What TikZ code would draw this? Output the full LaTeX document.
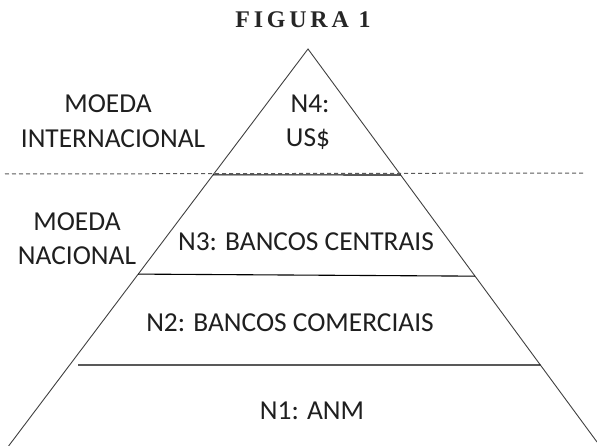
\documentclass[tikz,border=0pt]{standalone}
\usepackage{fontspec}
\setmainfont{Carlito}
\newfontfamily\titlefont[LetterSpace=16]{Liberation Serif}
\usetikzlibrary{calc}
\begin{document}
\begin{tikzpicture}[x=1bp,y=-1bp,
  side/.style={draw=black!75, line width=0.9bp},
  level/.style={draw=black, line width=1.1bp},
  sep/.style={draw=black!65, line width=1bp, dash pattern=on 4bp off 3bp},
  lbl/.style={font=\fontsize{27.5}{30}\selectfont, inner sep=0pt, align=center, text=black!88},
  ttl/.style={font=\titlefont\bfseries\fontsize{24}{26}\selectfont, inner sep=0pt, text=black!85}]
\useasboundingbox (0,0) rectangle (597,446);
\clip (0,0) rectangle (597,446);
\coordinate (apex) at (308,49);
\coordinate (bl) at (8.6,446);
\coordinate (br) at (597,442);
\draw[side] (bl) -- (apex) -- (br);
% separators
\coordinate (sepL) at (5,174);
\coordinate (sepR) at (586,173);
\draw[sep] (sepL) -- (sepR);
\coordinate (l4) at ($(apex)!0.317!(bl)$);
\coordinate (r4) at ($(apex)!0.3206!(br)$);
\draw[level] (l4) -- (r4);
\coordinate (l3) at ($(apex)!0.567!(bl)$);
\coordinate (r3) at ($(apex)!0.578!(br)$);
\draw[level] (l3) -- (r3);
\coordinate (l2) at (78,365);
\coordinate (r2) at ($(apex)!0.804!(br)$);
\draw[level] (l2) -- (r2);
% texts
\node[ttl] (title) at (303,20) {FIGURA 1};
\node[lbl] (mi1) at (108,104) {MOEDA};
\node[lbl] (mi2) at (113,139) {INTERNACIONAL};
\node[lbl] (n4a) at (310,104) {N4:};
\node[lbl] (n4b) at (308,139) {US\$};
\node[lbl] (mn1) at (77,222) {MOEDA};
\node[lbl] (mn2) at (77,256) {NACIONAL};
\node[lbl] (n3) at (306,242) {N3: BANCOS CENTRAIS};
\node[lbl] (n2) at (290,323) {N2: BANCOS COMERCIAIS};
\node[lbl] (n1) at (312,411) {N1: ANM};
\end{tikzpicture}
\end{document}
